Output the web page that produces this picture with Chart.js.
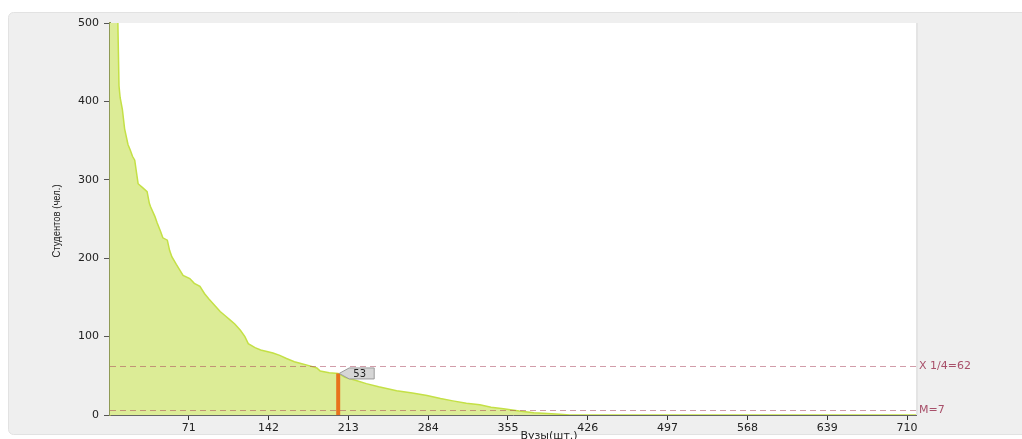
<!DOCTYPE html>
<html><head><meta charset="utf-8">
<script src="https://cdn.jsdelivr.net/npm/chart.js@4"></script>
<style>html,body{margin:0;padding:0;background:#fff;}#wrap{width:1022px;height:439px;position:relative;}</style>
</head><body><div id="wrap"><canvas id="c" width="1022" height="439"></canvas></div>
<script>
// University index (sorted by size) and number of students
const uniIndex = [1,2,3,4,5,6,7,8,9,10,12,14,17,19,21,23,25,26,30,34,36,37,41,43,46,48,52,54,56,60,63,66,72,76,81,85,89,94,99,104,108,112,117,121,124,130,135,146,152,158,165,170,178,185,188,196,204,210,220,229,240,256,270,283,295,306,318,330,340,351,365,378,390,401,410,718];
const students = [1400,1100,900,780,680,600,540,500,420,405,390,365,345,338,330,325,305,295,290,285,270,266,253,245,234,226,223,210,202,192,185,178,174,168,164,155,148,140,132,126,121,116,108,100,91,86,83,79,76,72,68,66,63,60,56,54,53,48,44,40,36,31,28,25,21,18,15,13,10,8,5,3,2,1,0,0];
const xTicks = [71,142,213,284,355,426,497,568,639,710];
const refValues = [62,7];
const refLabels = ['X 1/4=62','M=7'];
const markerX = [204];
const markerY = [53];

const L=110,R=916,T=23,B=415;
const pts = uniIndex.map((x,i)=>({x:x,y:students[i]}));
const marker = [{x:markerX[0],y:0},{x:markerX[0],y:markerY[0]}];

const bgPlugin = {
  id:'bg',
  beforeDraw(chart){
    const c=chart.ctx, a=chart.chartArea;
    c.save();
    c.fillStyle='#efefef';
    c.strokeStyle='#e2e2e2';
    c.lineWidth=1;
    c.beginPath();
    if(c.roundRect) c.roundRect(8.5,12.5,1020,422,5); else c.rect(8.5,12.5,1020,422);
    c.fill(); c.stroke();
    c.fillStyle='#e4e4e4';
    c.fillRect(a.right,a.top,2,a.bottom-a.top);
    c.fillStyle='#ffffff';
    c.fillRect(a.left,a.top,a.right-a.left,a.bottom-a.top);
    c.restore();
  },
  afterDatasetsDraw(chart){
    const c=chart.ctx, a=chart.chartArea, xs=chart.scales.x, ys=chart.scales.y;
    c.save();
    // reference lines
    c.setLineDash([6,4]);
    c.lineWidth=1;
    c.strokeStyle='rgba(165,60,85,0.5)';
    c.font='11px "DejaVu Sans"';
    c.textBaseline='middle';
    refValues.forEach((v,i)=>{
      const y=Math.round(ys.getPixelForValue(v))+0.5;
      c.beginPath(); c.moveTo(a.left,y); c.lineTo(a.right,y); c.stroke();
      c.fillStyle='#a8506a';
      c.fillText(refLabels[i],a.right+3,y);
    });
    c.setLineDash([]);
    // marker label bubble
    const mx=xs.getPixelForValue(markerX[0]), my=ys.getPixelForValue(markerY[0]);
    const tipX=mx+1, tipY=my, bx=tipX+10, bw=25, bh=11;
    c.beginPath();
    c.moveTo(tipX,tipY);
    c.lineTo(bx,tipY-bh/2);
    c.lineTo(bx+bw,tipY-bh/2);
    c.lineTo(bx+bw,tipY+bh/2);
    c.lineTo(bx,tipY+bh/2);
    c.closePath();
    c.fillStyle='#d6d6d6'; c.fill();
    c.strokeStyle='#9a9a9a'; c.lineWidth=1; c.stroke();
    c.fillStyle='#222';
    c.font='10px "DejaVu Sans"';
    c.textAlign='center';
    c.fillText(String(markerY[0]),bx+bw/2-2,tipY+0.5);
    // axis titles
    c.fillStyle='#222';
    c.font='11px "Liberation Sans"';
    c.save();
    c.translate(57,221);
    c.rotate(-Math.PI/2);
    c.scale(0.86,1);
    c.textAlign='center';
    c.fillText('Студентов (чел.)',0,0);
    c.restore();
    c.font='11px "DejaVu Sans"';
    c.textAlign='center';
    c.textBaseline='top';
    c.fillText('Вузы(шт.)',549,431);
    c.restore();
  }
};

new Chart(document.getElementById('c'),{
  type:'line',
  data:{datasets:[
    {data:marker,borderColor:'#e8731c',borderWidth:4,pointRadius:0,fill:false,order:0,borderCapStyle:'butt'},
    {data:pts,borderColor:'#c4e046',backgroundColor:'#dcec96',borderWidth:1.5,pointRadius:0,fill:'origin',tension:0,order:1}
  ]},
  options:{
    responsive:false,animation:false,
    layout:{padding:{left:0,right:1022-R,top:T,bottom:0}},
    plugins:{legend:{display:false},tooltip:{enabled:false}},
    scales:{
      x:{type:'linear',min:1,max:718,
        afterFit(s){s.height=439-B;},
        afterBuildTicks(s){s.ticks=xTicks.map(v=>({value:v}));},
        grid:{drawOnChartArea:false,drawTicks:true,tickLength:5,color:'#333',tickWidth:1},
        border:{color:'#666',width:1},
        ticks:{padding:2,color:'#222',font:{family:'DejaVu Sans',size:11},maxRotation:0,autoSkip:false}
      },
      y:{min:0,max:500,
        afterFit(s){s.width=L;},
        ticks:{stepSize:100,padding:5,color:'#222',font:{family:'DejaVu Sans',size:11}},
        grid:{drawOnChartArea:false,tickLength:6,color:'#555',tickWidth:1},
        border:{color:'#8f9a55',width:2}
      }
    }
  },
  plugins:[bgPlugin]
});
</script></body></html>
